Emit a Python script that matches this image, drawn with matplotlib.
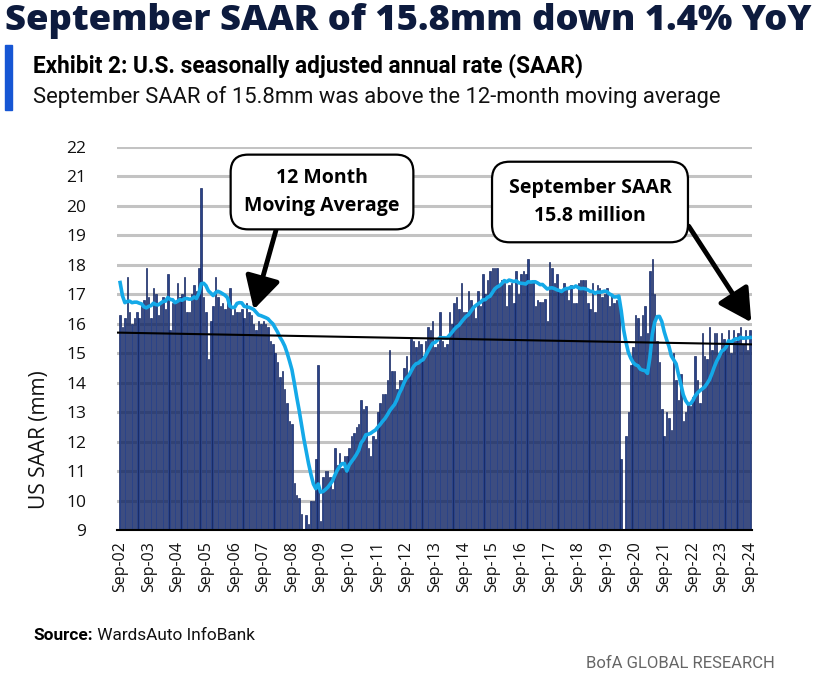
import numpy as np
import pandas as pd
import matplotlib
matplotlib.use("Agg")
import matplotlib.pyplot as plt
from matplotlib.patches import Rectangle

# months before Sep-02 (Oct-01 .. Aug-02), only used for the 12-month average
saar_pre = [21.3, 19.0, 17.1, 16.3, 16.6, 16.0, 16.4, 16.6, 16.9, 18.0, 18.3]

# monthly SAAR, Sep-02 .. Sep-24 (mm)
saar = [
    16.3, 15.9, 16.2, 17.6,                                                  # 2002
    16.4, 16.0, 16.2, 16.4, 16.2, 16.6, 16.8, 17.9, 16.9, 16.2, 17.2, 17.0,  # 2003
    16.3, 16.7, 16.9, 16.5, 17.7, 15.8, 16.7, 16.7, 17.4, 16.9, 17.0, 17.6,  # 2004
    16.4, 16.4, 17.0, 17.3, 17.1, 17.9, 20.6, 16.9, 16.4, 14.8, 16.1, 16.6,  # 2005
    17.6, 16.9, 16.6, 16.7, 16.5, 16.9, 17.2, 16.3, 16.5, 16.4, 16.4, 16.5,  # 2006
    16.2, 16.7, 16.4, 16.3, 16.0, 15.8, 16.1, 16.0, 16.1, 16.0, 15.9, 15.4,  # 2007
    15.3, 15.0, 14.7, 14.2, 14.4, 13.8, 13.3, 12.7, 12.6, 10.6, 10.2, 10.1,  # 2008
    9.55, 9.0, 9.5, 9.2, 10.0, 10.0, 11.4, 14.6, 9.3, 10.8, 11.0, 11.0,      # 2009
    10.8, 10.4, 11.8, 11.2, 11.6, 11.1, 11.5, 11.5, 11.8, 12.2, 12.3, 12.5,  # 2010
    12.6, 13.4, 13.1, 13.2, 11.8, 11.5, 12.2, 12.1, 13.0, 13.3, 13.6, 13.6,  # 2011
    14.1, 15.1, 14.4, 14.4, 13.8, 14.1, 14.1, 14.5, 14.9, 14.3, 15.5, 15.4,  # 2012
    15.2, 15.4, 15.3, 14.9, 15.4, 15.9, 15.8, 16.1, 15.2, 15.3, 16.4, 15.4,  # 2013
    15.2, 15.3, 16.4, 16.0, 16.7, 16.9, 16.5, 17.4, 16.4, 16.4, 17.1, 16.8,  # 2014
    16.6, 16.2, 17.1, 16.6, 17.7, 17.0, 17.5, 17.8, 17.9, 17.9, 17.9, 17.3,  # 2015
    17.5, 17.4, 16.6, 17.3, 17.4, 16.7, 17.8, 17.0, 17.7, 17.8, 17.7, 18.2,  # 2016
    17.4, 17.5, 16.6, 16.8, 16.75, 16.75, 16.85, 16.1, 18.1, 17.9, 17.4, 17.7,  # 2017
    17.1, 17.1, 17.4, 17.2, 16.8, 17.3, 16.7, 16.7, 17.4, 17.5, 17.5, 17.5,  # 2018
    16.7, 16.5, 17.4, 16.4, 17.3, 17.2, 16.9, 17.0, 17.2, 16.6, 17.0, 16.7,  # 2019
    16.8, 16.8, 11.4, 8.7, 12.2, 13.0, 14.6, 15.2, 16.3, 16.2, 15.6, 16.3,   # 2020
    16.6, 15.7, 17.8, 18.2, 17.0, 15.4, 14.7, 13.1, 12.2, 13.0, 12.8, 12.4,  # 2021
    15.0, 14.1, 13.4, 14.3, 12.7, 13.0, 13.3, 13.2, 13.5, 14.9, 14.1, 13.3,  # 2022
    15.7, 14.9, 14.8, 15.9, 15.1, 15.7, 15.7, 15.0, 15.7, 15.5, 15.3, 15.8,  # 2023
    15.0, 15.8, 15.4, 15.7, 15.9, 15.3, 15.8, 15.1, 15.8,                    # 2024
]

trend_ends = [15.7, 15.3]
tick_labels = ["Sep-%02d" % y for y in range(2, 25)]
y_ticks = list(range(9, 23))

navy = "#0d1b3e"
bar_col = "#2a4388"
ma_col = "#14a9e8"
narrow = ["Roboto", "DejaVu Sans"]

x = np.arange(len(saar))
ma = pd.Series(saar_pre + saar).rolling(12).mean().to_numpy()[len(saar_pre):]

fig = plt.figure(figsize=(8.18, 6.96), dpi=100)
W, H = 818, 696
ax = fig.add_axes([117 / W, 1 - 530 / H, (752 - 117) / W, (530 - 147) / H])

ax.bar(x, saar, width=0.62, color=bar_col, edgecolor="#0a1c58", linewidth=0.45, zorder=2)
ax.plot(x, ma, color=ma_col, lw=2.6, zorder=3)

xmin, xmax = -1.3, len(saar) - 0.2
ax.plot([xmin, xmax], trend_ends, color="black", lw=1.5, zorder=4)

ax.set_xlim(xmin, xmax)
ax.set_ylim(9, 22)
ax.set_yticks(y_ticks)
ax.yaxis.grid(True, color="#c3c3c3", lw=2.2, zorder=0)
ax.set_axisbelow(True)
for s in ["left", "right", "top"]:
    ax.spines[s].set_visible(False)
ax.spines["bottom"].set_color("black")
ax.spines["bottom"].set_linewidth(1.5)
ax.spines["bottom"].set_zorder(5)

ax.set_xticks(x[::12])
ax.set_xticklabels(tick_labels, rotation=90, fontsize=11.5, family="Open Sans", color="#111111")
ax.tick_params(axis="x", length=0, pad=8)
ax.tick_params(axis="y", length=0, pad=22, labelsize=12.5)
for lab in ax.get_yticklabels():
    lab.set_family("Open Sans")
    lab.set_color("#111111")

ax.set_ylabel("US SAAR (mm)", fontsize=15, family="Open Sans", color="#111111")
ax.yaxis.set_label_coords(-0.105, 0.235)

# annotations
box = dict(boxstyle="round,pad=0.7,rounding_size=0.9", fc="white", ec="black", lw=1.6)
arrow = dict(arrowstyle="-|>,head_length=1.1,head_width=0.6", color="black", lw=3.5,
             shrinkA=0, shrinkB=0, mutation_scale=18)

ax.annotate("12 Month\nMoving Average", xy=(56, ma[56]), xycoords="data",
            xytext=(322, H - 192), textcoords="figure pixels",
            ha="center", va="center", fontsize=14, weight="bold", family="Open Sans",
            linespacing=1.5, bbox=box, arrowprops=dict(arrow, relpos=(0.23, 0.0)), zorder=6)

box2 = dict(box, boxstyle="round,pad=0.85,rounding_size=0.9")
ax.annotate("September SAAR\n15.8 million", xy=(x[-1] + 0.5, saar[-1] + 0.25), xycoords="data",
            xytext=(590, H - 202), textcoords="figure pixels",
            ha="center", va="center", fontsize=14, weight="bold", family="Open Sans",
            linespacing=1.5, bbox=box2, arrowprops=dict(arrow, relpos=(1.0, 0.55)),
            zorder=6, annotation_clip=False)

# header and footer
fig.text(5 / W, 1 - 21 / H, "September SAAR of 15.8mm down 1.4% YoY", fontsize=26.2,
         weight="heavy", color=navy, family="Open Sans", va="center", ha="left")
fig.patches.append(Rectangle((5 / W, 1 - 110 / H), 7 / W, 65 / H, transform=fig.transFigure,
                             color="#1656d4"))
fig.text(33 / W, 1 - 66 / H, "Exhibit 2: U.S. seasonally adjusted annual rate (SAAR)",
         fontsize=16.3, weight="bold", color="black", family=narrow,
         va="center", ha="left")
fig.text(33 / W, 1 - 97 / H, "September SAAR of 15.8mm was above the 12-month moving average",
         fontsize=15.8, color="#111111", family=narrow, va="center", ha="left")

src = fig.text(33 / W, 1 - 636 / H, "Source:", fontsize=12.4, weight="bold", color="black",
               family=narrow, va="center", ha="left")
ax.annotate(" WardsAuto InfoBank", xy=(1, 0.5), xycoords=src, va="center", ha="left",
            fontsize=12.4, color="#111111", family=narrow)
fig.text(775 / W, 1 - 663 / H, "BofA GLOBAL RESEARCH", fontsize=12, color="#666666",
         family=narrow, va="center", ha="right")

fig.savefig("out.png", dpi=100)
